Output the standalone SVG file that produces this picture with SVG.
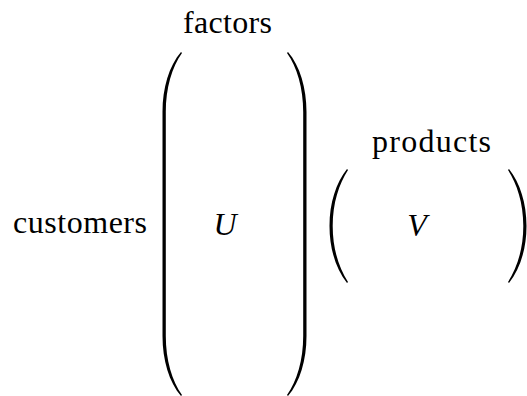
<svg xmlns="http://www.w3.org/2000/svg" width="527" height="396" viewBox="0 0 527 396">
<style>
text{font-family:"Liberation Serif","DejaVu Serif",serif;font-size:32px;fill:#000}
.m{font-style:italic}
.p{fill:#000;stroke:none}
</style>
<rect width="527" height="396" fill="#fff"/>
<g id="labels">
<text x="183" y="33" textLength="89" lengthAdjust="spacing">factors</text>
<text x="372" y="152" textLength="119" lengthAdjust="spacing">products</text>
<text x="13" y="233" textLength="134" lengthAdjust="spacing">customers</text>
</g>
<g id="U">
<path class="p" d="M181,52 C169,66 162.5,88 162.5,112 L162.5,336 C162.5,360 169,382 181,396 L182,395 C172,381 165.8,360 165.8,336 L165.8,112 C165.8,88 172,67 182,53 Z"/>
<path class="p" d="M288,52 C300,66 306.5,88 306.5,112 L306.5,336 C306.5,360 300,382 288,396 L287,395 C297,381 303.2,360 303.2,336 L303.2,112 C303.2,88 297,67 287,53 Z"/>
<text class="m" x="225" y="235" text-anchor="middle">U</text>
</g>
<g id="V">
<path class="p" d="M347,169 C336,183 329.5,203 329.5,226 C329.5,249 336,269 347,283 L348,282 C339,268 332.7,249 332.7,226 C332.7,203 339,184 348,170 Z"/>
<path class="p" d="M509,169 C520,183 526.5,203 526.5,226 C526.5,249 520,269 509,283 L508,282 C517,268 523.3,249 523.3,226 C523.3,203 517,184 508,170 Z"/>
<text class="m" x="417" y="236" text-anchor="middle">V</text>
</g>
</svg>
